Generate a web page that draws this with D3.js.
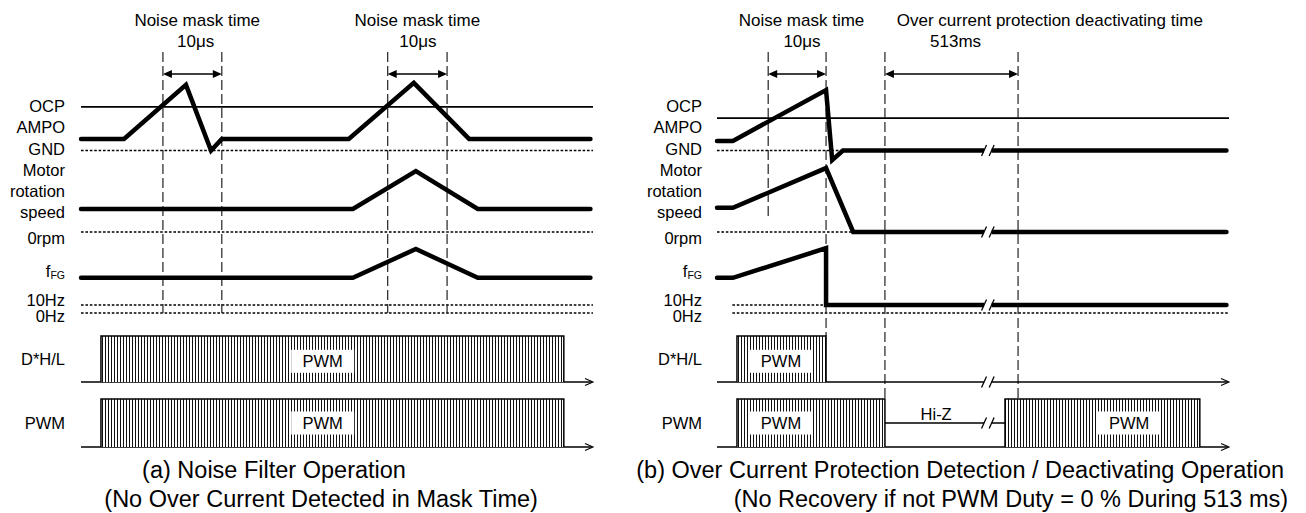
<!DOCTYPE html>
<html><head><meta charset="utf-8">
<script src="https://cdn.jsdelivr.net/npm/d3@7"></script>
<style>
body{margin:0;background:#fff}
svg{display:block}
text{font-family:"Liberation Sans",Arial,Helvetica,sans-serif;fill:#000}
</style></head>
<body><svg id="c" width="1306" height="513"></svg>
<script>
// ================= DATA =================
const timeDomain = [0, 100];            // arbitrary time units per panel
const signalLabels = ["OCP","AMPO","GND","Motor","rotation","speed","0rpm","f","10Hz","0Hz","D*H/L","PWM"];
const blockLabel = "PWM";
const hiZLabel = "Hi-Z";
// panel (a)
const ocpA   = 1.09;
const ampoA  = [[0,0.29],[8.4,0.29],[20.5,1.64],[25.4,0],[27.5,0.29],[52.3,0.29],[65,1.69],[75.8,0.29],[99.5,0.29]];
const speedA = [[0,1],[53.1,1],[65.4,2.65],[77.5,1],[99.5,1]];
const fgA    = [[0,44],[53.1,44],[65.4,80],[77.5,44],[99.5,44]];
const dhlA   = [[3.9,94.3]];
const pwmA   = [[3.9,94.3]];
const boxA   = [47.2];
const maskA  = [[16,27.5],[59.9,71.5]];
const topTextA = [[22.7,"Noise mask time",22.4,"10μs"],[65.7,"Noise mask time",65.8,"10μs"]];
const captionA = [[37.7,"(a) Noise Filter Operation"],[46.9,"(No Over Current Detected in Mask Time)"]];
// panel (b)
const ocpB   = 0.81;
const ampoB  = [[0,0.24],[3.1,0.24],[21.3,1.51],[22.5,-0.24],[24.6,0],[99.5,0]];
const speedB = [[0,1.05],[3.1,1.05],[21.3,2.78],[26.6,0],[99.5,0]];
const fgB    = [[0,44],[3.1,44],[21.3,81],[21.3,10],[99.5,10]];
const dhlB   = [[3.9,21.3]];
const pwmB   = [[3.9,32.8],[56.25,94.3]];
const boxDhlB = [12.5];
const boxPwmB = [12.5,80.5];
const hiZB   = [32.8,56.25];
const hiZText = 42.8;
const maskB  = [[10,21.3],[32.8,58.8]];
const breakB = 52.9;
const topTextB = [[16.5,"Noise mask time",16.6,"10μs"],[65.0,"Over current protection deactivating time",46.6,"513ms"]];
const captionB = [[47.5,"(b) Over Current Protection Detection / Deactivating Operation"],[57.4,"(No Recovery if not PWM Duty = 0 % During 513 ms)"]];

// ================= LAYOUT =================
const svg = d3.select("#c");
const defs = svg.append("defs");
const pat = defs.append("pattern").attr("id","hatch").attr("patternUnits","userSpaceOnUse")
  .attr("width",3).attr("height",10);
pat.append("rect").attr("width",3).attr("height",10).attr("fill","#fff");
pat.append("rect").attr("x",0).attr("width",1).attr("height",10).attr("fill","#111");

const yAmpo  = d3.scaleLinear().domain([0,1]).range([150.5,110.5]);
const ySpeed = d3.scaleLinear().domain([0,1]).range([232,209]);
const yFg    = d3.scaleLinear().domain([0,10]).range([313,305]);
const yDhl   = d3.scaleLinear().domain([0,1]).range([382,336]);
const yPwm   = d3.scaleLinear().domain([0,1]).range([447,399]);
const labelBase = [112,133,155,176,197,218,244,277,306,322,365,429];
const DOT = "2.6,1.8", DASH = "10,4";

function panel(cfg){
  const x = d3.scaleLinear().domain(timeDomain).range(cfg.range);
  const g = svg.append("g");
  const thin = (x1,y1,x2,y2,w,dash,col)=>g.append("line").attr("x1",x1).attr("y1",y1).attr("x2",x2).attr("y2",y2)
      .attr("stroke",col||"#000").attr("stroke-width",w).attr("stroke-dasharray",dash||null);
  // labels
  signalLabels.forEach((s,i)=>{
    const t = g.append("text").attr("x",cfg.labelX).attr("y",labelBase[i]).attr("text-anchor","end")
      .attr("font-size",16.5);
    if(s==="f"){ t.append("tspan").text("f"); t.append("tspan").attr("font-size",10.5).attr("dy",2).text("FG"); }
    else t.text(s);
  });
  // reference dotted lines
  thin(x(cfg.gnd[0]),yAmpo(0),x(cfg.gnd[1]),yAmpo(0),1.5,DOT);
  thin(x(cfg.rpm[0]),ySpeed(0),x(cfg.rpm[1]),ySpeed(0),1.5,DOT);
  thin(x(cfg.hz10[0]),yFg(10),x(cfg.hz10[1]),yFg(10),1.5,DOT);
  thin(x(cfg.hz0[0]),yFg(0),x(cfg.hz0[1]),yFg(0),1.5,DOT);
  // OCP threshold
  thin(x(0),yAmpo(cfg.ocp),x(100),yAmpo(cfg.ocp),1.6);
  // markers (dashed verticals + arrows)
  cfg.marks.forEach((m,i)=>{
    thin(x(m[0]),52,x(m[0]),cfg.markEnd[i][0],1.2,DASH,"#222");
    thin(x(m[1]),52,x(m[1]),cfg.markEnd[i][1],1.2,DASH,"#222");
    const xa=x(m[0]), xb=x(m[1]), ya=74;
    thin(xa+6,ya,xb-6,ya,1.5);
    g.append("path").attr("d",`M${xa},${ya}L${xa+9},${ya-4}L${xa+9},${ya+4}Z`).attr("fill","#000");
    g.append("path").attr("d",`M${xb},${ya}L${xb-9},${ya-4}L${xb-9},${ya+4}Z`).attr("fill","#000");
  });
  // top texts
  cfg.top.forEach(d=>{
    g.append("text").attr("x",x(d[0])).attr("y",26).attr("text-anchor","middle").attr("font-size",17).text(d[1]);
    g.append("text").attr("x",x(d[2])).attr("y",47).attr("text-anchor","middle").attr("font-size",17).text(d[3]);
  });
  // thick waveforms
  const line = (ys)=>d3.line().x(d=>x(d[0])).y(d=>ys(d[1]));
  [[cfg.ampo,yAmpo],[cfg.speed,ySpeed],[cfg.fg,yFg]].forEach(([data,ys])=>{
    g.append("path").attr("d",line(ys)(data)).attr("fill","none").attr("stroke","#000")
      .attr("stroke-width",4.5).attr("stroke-linecap","round").attr("stroke-linejoin","miter");
  });
  // digital rows
  [[cfg.dhl,yDhl,cfg.boxDhl,0.45],[cfg.pwm,yPwm,cfg.boxPwm,0.5]].forEach(([blocks,ys,boxes,bl])=>{
    thin(x(0),ys(0),x(100)-1,ys(0),1.3);
    g.append("path").attr("d",`M${x(100)-8},${ys(0)-3.5}L${x(100)},${ys(0)}L${x(100)-8},${ys(0)+3.5}`)
      .attr("fill","none").attr("stroke","#000").attr("stroke-width",1.1);
    blocks.forEach(b=>{
      g.append("rect").attr("x",x(b[0])).attr("y",ys(1)).attr("width",x(b[1])-x(b[0])).attr("height",ys(0)-ys(1))
        .attr("fill","url(#hatch)");
      g.append("path").attr("d",`M${x(b[0])},${ys(0)}V${ys(1)}H${x(b[1])}V${ys(0)}`)
        .attr("fill","none").attr("stroke","#000").attr("stroke-width",1.5);
    });
    boxes.forEach(c=>{
      const cy = ys(bl);
      g.append("rect").attr("x",x(c)-31.5).attr("y",cy-11.5).attr("width",63).attr("height",23).attr("fill","#fff");
      g.append("text").attr("x",x(c)).attr("y",cy+6).attr("text-anchor","middle").attr("font-size",16.5).text(blockLabel);
    });
  });
  // Hi-Z
  if(cfg.hiZ){
    thin(x(cfg.hiZ[0]),yPwm(0.5),x(cfg.hiZ[1]),yPwm(0.5),1.3);
    g.append("text").attr("x",x(cfg.hiZText)).attr("y",420).attr("text-anchor","middle").attr("font-size",16.5).text(hiZLabel);
  }
  // breaks
  if(cfg.brk!=null){
    const xb = x(cfg.brk);
    const ysList=[yAmpo(0),ySpeed(0),yFg(10),yDhl(0),yPwm(0.5)];
    ysList.forEach(y=>{
      g.append("rect").attr("x",xb-3.8).attr("y",y-3.5).attr("width",7.6).attr("height",7).attr("fill","#fff");
      [-3.8,3.8].forEach(o=>g.append("line").attr("x1",xb+o-2.5).attr("y1",y+5.5).attr("x2",xb+o+2.5).attr("y2",y-5.5)
         .attr("stroke","#000").attr("stroke-width",1.3));
    });
  }
  // captions
  cfg.cap.forEach((d,i)=>{
    g.append("text").attr("x",x(d[0])).attr("y",[478,507][i]).attr("text-anchor","middle").attr("font-size",23.5).text(d[1]);
  });
}

panel({range:[81,593],labelX:65,ocp:ocpA,ampo:ampoA,speed:speedA,fg:fgA,dhl:dhlA,pwm:pwmA,boxDhl:boxA,boxPwm:boxA,
  marks:maskA,markEnd:[[313,313],[313,313]],top:topTextA,cap:captionA,
  gnd:[0,100],rpm:[0,100],hz10:[0,100],hz0:[0,100]});
panel({range:[717,1229],labelX:702,ocp:ocpB,ampo:ampoB,speed:speedB,fg:fgB,dhl:dhlB,pwm:pwmB,boxDhl:boxDhlB,boxPwm:boxPwmB,
  marks:maskB,markEnd:[[217,336],[399,399]],top:topTextB,cap:captionB,hiZ:hiZB,hiZText:hiZText,brk:breakB,
  gnd:[0,24.6],rpm:[0,26.6],hz10:[3,21.3],hz0:[3,100]});
</script></body></html>
